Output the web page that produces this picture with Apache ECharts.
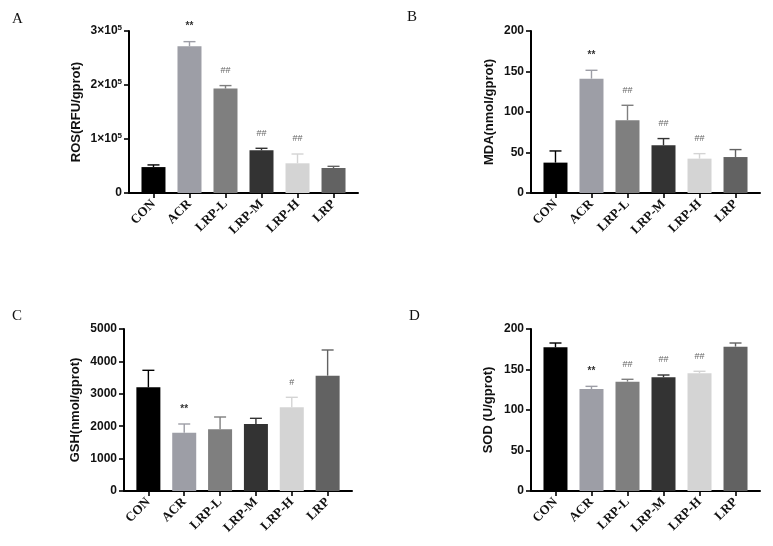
<!DOCTYPE html>
<html>
<head>
<meta charset="utf-8">
<script src="https://cdn.jsdelivr.net/npm/echarts@6/dist/echarts.min.js"></script>
<style>html,body{margin:0;padding:0;background:#fff;}#c{width:773px;height:546px;}</style>
</head>
<body>
<div id="c"></div>
<script>
const categories = ['CON', 'ACR', 'LRP-L', 'LRP-M', 'LRP-H', 'LRP'];
const barColors = ['#000000', '#9d9ea6', '#7f7f7f', '#333333', '#d4d4d4', '#626262'];

const rosMean = [48000, 271700, 193300, 79000, 55000, 46300];
const rosSD = [4000, 8600, 5600, 3800, 17200, 3100];
const rosMarks = ['', '**', '##', '##', '##', ''];

const mdaMean = [37.5, 141.2, 89.8, 58.9, 42.4, 44.4];
const mdaSD = [14.4, 10.3, 18.5, 8.3, 6.2, 9.2];
const mdaMarks = ['', '**', '##', '##', '##', ''];

const gshMean = [3200, 1800, 1904, 2068, 2583, 3559];
const gshSD = [525, 268, 380, 175, 309, 793];
const gshMarks = ['', '**', '', '', '#', ''];

const sodMean = [177.4, 125.9, 135, 140.4, 145.3, 178.2];
const sodSD = [5.3, 3.3, 2.9, 2.8, 2.5, 4.5];
const sodMarks = ['', '**', '##', '##', '##', ''];

const rosTicks = [0, 100000, 200000, 300000];
const mdaTicks = [0, 50, 100, 150, 200];
const gshTicks = [0, 1000, 2000, 3000, 4000, 5000];
const sodTicks = [0, 50, 100, 150, 200];

const panels = [
  {letter: 'A', lx: 12, ly: 12, grid: {left: 129, top: 31, width: 229, height: 162}, name: 'ROS(RFU/gprot)', nameGap: 46, mean: rosMean, sd: rosSD, marks: rosMarks, ticks: rosTicks, sci: true},
  {letter: 'B', lx: 407, ly: 10, grid: {left: 531, top: 31, width: 229, height: 162}, name: 'MDA(nmol/gprot)', nameGap: 35, mean: mdaMean, sd: mdaSD, marks: mdaMarks, ticks: mdaTicks},
  {letter: 'C', lx: 12, ly: 309, grid: {left: 124, top: 329, width: 228, height: 162}, name: 'GSH(nmol/gprot)', nameGap: 42, mean: gshMean, sd: gshSD, marks: gshMarks, ticks: gshTicks},
  {letter: 'D', lx: 409, ly: 309, grid: {left: 531, top: 329, width: 229, height: 162}, name: 'SOD (U/gprot)', nameGap: 36, mean: sodMean, sd: sodSD, marks: sodMarks, ticks: sodTicks}
];

const idx = categories.map((c, i) => i);
const grids = [], xAxes = [], yAxes = [], series = [], graphics = [];

panels.forEach((p, k) => {
  grids.push(Object.assign({containLabel: false}, p.grid));
  const t = p.ticks;
  const step = t[1] - t[0];
  xAxes.push({
    type: 'value', gridIndex: k, min: -0.68, max: 5.68,
    axisLine: {show: true, onZero: false, lineStyle: {color: '#000', width: 2}},
    axisTick: {show: true, customValues: idx, length: 5, lineStyle: {color: '#000', width: 1.6}},
    axisLabel: {
      customValues: idx, rotate: 45, margin: 9, color: '#111',
      fontFamily: 'Liberation Serif', fontWeight: 'bold', fontSize: 13,
      formatter: v => categories[Math.round(v)] || ''
    },
    splitLine: {show: false}
  });
  yAxes.push({
    type: 'value', gridIndex: k, min: t[0], max: t[t.length - 1], interval: step,
    name: p.name, nameLocation: 'middle', nameGap: p.nameGap, nameRotate: 90,
    nameTextStyle: {fontFamily: 'Liberation Sans', fontWeight: 'bold', fontSize: 13, color: '#111'},
    axisLine: {show: true, onZero: false, lineStyle: {color: '#000', width: 2}},
    axisTick: {show: true, length: 5, lineStyle: {color: '#000', width: 1.6}},
    axisLabel: {
      margin: 7, color: '#111', fontFamily: 'Liberation Sans', fontWeight: 'bold', fontSize: 12,
      formatter: p.sci ? (v => v === 0 ? '0' : '{m|' + (v / 100000) + '×10}{s|5}') : (v => String(v)),
      rich: p.sci ? {
        m: {fontFamily: 'Liberation Sans', fontWeight: 'bold', fontSize: 12, color: '#111'},
        s: {fontFamily: 'Liberation Sans', fontWeight: 'bold', fontSize: 8, color: '#111', verticalAlign: 'top', padding: [0, 0, 7, 0]}
      } : undefined
    },
    splitLine: {show: false}
  });
  series.push({
    type: 'bar', xAxisIndex: k, yAxisIndex: k, barWidth: 24,
    data: p.mean.map((v, i) => ({value: [i, v], itemStyle: {color: barColors[i]}})),
    silent: true, animation: false
  });
  series.push({
    type: 'custom', xAxisIndex: k, yAxisIndex: k, silent: true, animation: false, z: 3,
    data: p.mean.map((v, i) => [i, v, v + p.sd[i]]),
    renderItem: (params, api) => {
      const i = api.value(0);
      const base = api.coord([i, api.value(1)]);
      const top = api.coord([i, api.value(2)]);
      const col = barColors[i];
      const children = [
        {type: 'line', shape: {x1: base[0], y1: base[1], x2: top[0], y2: top[1]}, style: {stroke: col, lineWidth: 1.4}},
        {type: 'line', shape: {x1: top[0] - 6, y1: top[1], x2: top[0] + 6, y2: top[1]}, style: {stroke: col, lineWidth: 1.4}}
      ];
      const mark = p.marks[i];
      if (mark) {
        const star = mark.indexOf('*') >= 0;
        children.push({type: 'text', x: top[0], y: top[1] - 15, style: {
          text: mark, align: 'center', verticalAlign: 'middle',
          fontFamily: 'Liberation Sans', fontSize: star ? 10 : 9,
          fontWeight: star ? 'bold' : 'normal',
          fill: star ? '#333' : '#666'
        }});
      }
      return {type: 'group', children: children};
    }
  });
  graphics.push({type: 'text', left: p.lx, top: p.ly, style: {text: p.letter, fontFamily: 'Liberation Serif', fontSize: 15, fill: '#111'}});
});

const chart = echarts.init(document.getElementById('c'), null, {renderer: 'canvas'});
chart.setOption({
  backgroundColor: '#fff',
  animation: false,
  grid: grids,
  xAxis: xAxes,
  yAxis: yAxes,
  series: series,
  graphic: graphics
});
</script>
</body>
</html>
